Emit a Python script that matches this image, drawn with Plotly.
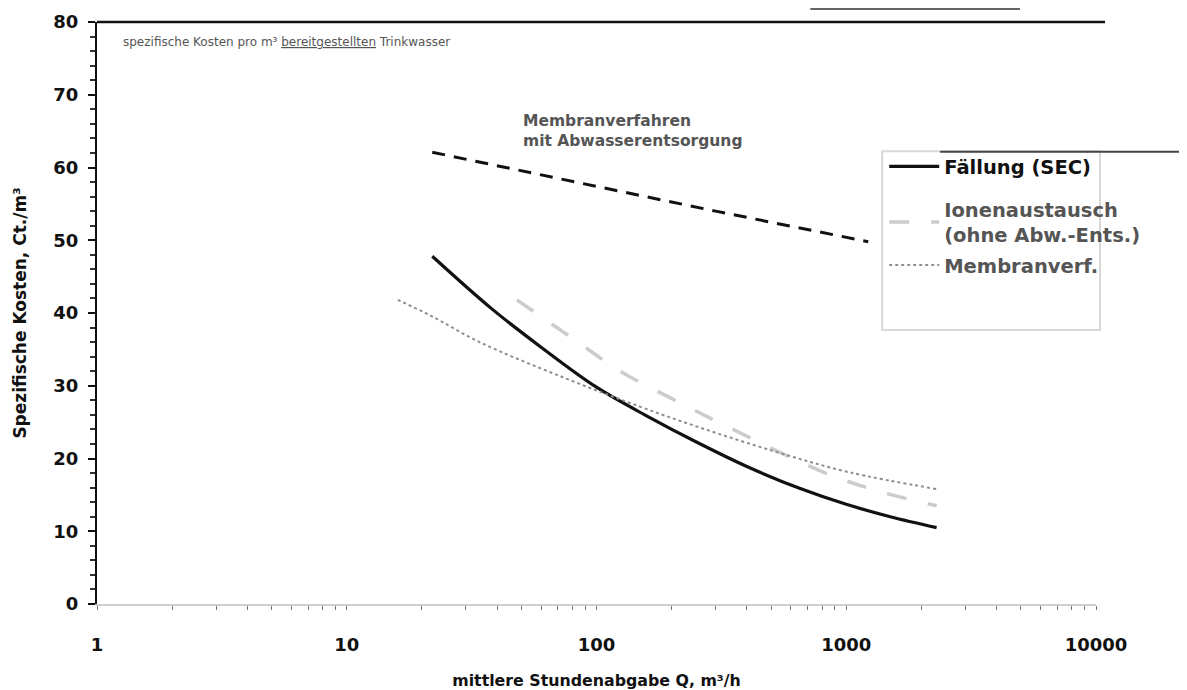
import plotly.graph_objects as go

# ---- data ----
x_faellung = [22, 38, 60, 100, 160, 250, 400, 650, 1000, 1500, 2300]
y_faellung = [47.8, 40.6, 35.3, 29.8, 25.8, 22.3, 18.9, 15.9, 13.7, 12.0, 10.5]

x_ionen = [48, 78, 126, 204, 316, 813, 1350, 2300]
y_ionen = [41.8, 36.8, 31.9, 28.1, 24.8, 18.1, 15.5, 13.5]

x_membran = [16, 21.5, 34, 73, 150, 257, 525, 1030, 2300]
y_membran = [41.8, 39.7, 36.0, 31.2, 27.1, 24.3, 20.9, 18.1, 15.8]

x_membran_abw = [22, 50, 100, 300, 1225]
y_membran_abw = [62.1, 59.6, 57.4, 54.0, 49.8]

x_ticks = [1, 10, 100, 1000, 10000]
x_ticklabels = ["1", "10", "100", "1000", "10000"]
y_ticks = [0, 10, 20, 30, 40, 50, 60, 70, 80]
x_minor = [m * d for d in (1, 10, 100, 1000) for m in range(2, 10)]

FONT = "DejaVu Sans"

# The page body adds an 8 px offset, so the figure is sized to the visible area.
W, H = 1179, 682
ML, MT, PW, PH = 89, 14, 999, 582

fig = go.Figure()

fig.add_trace(go.Scatter(
    x=x_membran_abw, y=y_membran_abw, mode="lines", showlegend=False,
    line=dict(color="#111111", width=3, dash="13px,9px"),
    name="Membranverfahren mit Abwasserentsorgung"))

fig.add_trace(go.Scatter(
    x=x_faellung, y=y_faellung, mode="lines", line_shape="spline",
    line=dict(color="#111111", width=3.2), name="<b>Fällung (SEC)</b>", legend="legend"))

fig.add_trace(go.Scatter(
    x=x_ionen, y=y_ionen, mode="lines", line_shape="spline",
    line=dict(color="#cccccc", width=3.5, dash="20px,22px"),
    name="<b><span style='color:#555'>Ionenaustausch<br>(ohne Abw.-Ents.)</span></b>",
    legend="legend2", legendgroup="b"))

fig.add_trace(go.Scatter(
    x=x_membran, y=y_membran, mode="lines", line_shape="spline",
    line=dict(color="#8f8f8f", width=2, dash="3px,3px"),
    name="<b><span style='color:#555'>Membranverf.</span></b>",
    legend="legend2", legendgroup="c"))

legend_common = dict(xanchor="left", yanchor="top", bgcolor="rgba(0,0,0,0)", borderwidth=0,
                     font=dict(size=19.5, family=FONT, color="#111"), itemwidth=50)

fig.update_layout(
    width=W, height=H,
    margin=dict(l=ML, r=W - ML - PW, t=MT, b=H - MT - PH, autoexpand=False),
    paper_bgcolor="white", plot_bgcolor="white",
    font=dict(family=FONT, color="#111"),
    showlegend=True,
    legend=dict(x=0.788, y=0.785, **legend_common),
    legend2=dict(x=0.788, y=0.711, tracegroupgap=2, **legend_common),
    xaxis=dict(type="log", range=[0, 4], tickvals=x_ticks,
               ticktext=["<b>%s</b>" % t for t in x_ticklabels],
               showgrid=False, zeroline=False, automargin=False,
               showline=True, linecolor="#cfcfcf", linewidth=2,
               ticks="outside", ticklen=4, tickcolor="#777",
               minor=dict(tickmode="array", tickvals=x_minor, ticks="outside", ticklen=4,
                          tickcolor="#777", showgrid=False),
               tickfont=dict(size=18, family=FONT, color="#111"),
               ticklabelstandoff=19,
               title=dict(text="<b>mittlere Stundenabgabe Q, m³/h</b>",
                          font=dict(size=15.8, family=FONT, color="#111"), standoff=25)),
    yaxis=dict(range=[0, 80], tickvals=y_ticks,
               ticktext=["<b>%d</b>" % v for v in y_ticks],
               showgrid=False, zeroline=False, automargin=False,
               showline=True, linecolor="#111", linewidth=2,
               ticks="outside", ticklen=7, tickcolor="#111", tickwidth=2,
               minor=dict(tickmode="linear", tick0=0, dtick=2, ticks="outside", ticklen=5,
                          tickcolor="#333", showgrid=False),
               tickfont=dict(size=18, family=FONT, color="#111"),
               ticklabelstandoff=6,
               title=dict(text="<b>Spezifische Kosten, Ct./m³</b>",
                          font=dict(size=17, family=FONT, color="#111"), standoff=22)),
)

# frame / decoration lines
fig.add_shape(type="line", xref="paper", yref="paper", x0=0, x1=1.009, y0=1, y1=1,
              line=dict(color="#111", width=2.5))
fig.add_shape(type="line", xref="paper", yref="paper", x0=0.714, x1=0.924,
              y0=1 + (MT - 1) / PH, y1=1 + (MT - 1) / PH,
              line=dict(color="#333", width=1.5))
# legend box
fig.add_shape(type="rect", xref="paper", yref="paper", x0=0.786, x1=1.004, y0=0.471, y1=0.778,
              line=dict(color="#d8d8d8", width=2))
fig.add_shape(type="line", xref="paper", yref="paper", x0=0.844, x1=1.10, y0=0.777, y1=0.777,
              line=dict(color="#444", width=2))

fig.add_annotation(xref="paper", yref="paper", x=0.024, y=0.966, xanchor="left", yanchor="middle",
                   text="spezifische Kosten pro m³ <u>bereitgestellten</u> Trinkwasser",
                   showarrow=False, font=dict(size=12, family=FONT, color="#555"))
fig.add_annotation(xref="paper", yref="paper", x=0.424, y=0.848, xanchor="left", yanchor="top",
                   align="left",
                   text="<b>Membranverfahren<br>mit Abwasserentsorgung</b>",
                   showarrow=False, font=dict(size=15.5, family=FONT, color="#555"))

fig.write_html("out.html")
